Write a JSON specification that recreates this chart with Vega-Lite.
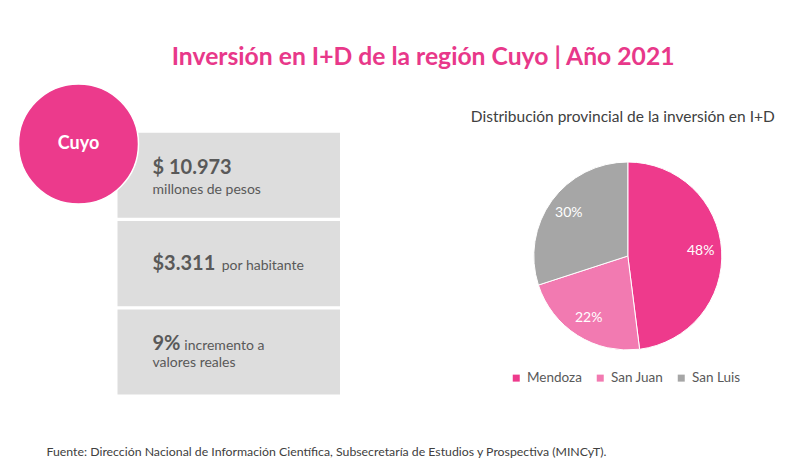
{
  "$schema": "https://vega.github.io/schema/vega-lite/v6.json",
  "background": "white",
  "padding": {"left": 14.5, "top": 44, "right": 5, "bottom": 5},
  "config": {"view": {"stroke": null}, "font": "Lato", "title": {"font": "Lato"}},
  "title": {"text": "Inversión en I+D de la región Cuyo | Año 2021", "font": "Lato", "fontSize": 24.7, "fontWeight": "bold", "color": "#E8388A", "anchor": "middle", "offset": 11.5, "dx": 28},
  "vconcat": [
    {
      "title": {"text": "Fuente: Dirección Nacional de Información Científica, Subsecretaría de Estudios y Prospectiva (MINCyT).", "orient": "bottom", "anchor": "start", "fontSize": 12.3, "fontWeight": "normal", "color": "#404040", "offset": 17.5, "dx": 31},
      "bounds": "flush",
      "spacing": 169,
      "resolve": {"scale": {"color": "independent"}, "legend": {"color": "independent"}},
      "hconcat": [
        {
          "width": 321.5,
          "height": 310.5,
          "layer": [
            {
              "data": {"values": [
                {"indicador": "inversion", "panel": "Cuyo", "valor": "$ 10.973", "detalle": "millones de pesos", "detalle2": ""},
                {"indicador": "habitante", "panel": "Cuyo", "valor": "$3.311", "detalle": "por habitante", "detalle2": ""},
                {"indicador": "incremento", "panel": "Cuyo", "valor": "9%", "detalle": "incremento a", "detalle2": "valores reales"}
              ]},
              "encoding": {
                "x": {"field": "panel", "type": "nominal", "axis": null, "scale": {"type": "band", "paddingInner": 0, "paddingOuter": 0.2225, "align": 1}},
                "y": {"field": "indicador", "type": "nominal", "sort": null, "axis": null, "scale": {"type": "band", "domain": ["inversion", "habitante", "incremento"], "paddingInner": 0.0373, "paddingOuter": 0.276, "align": 1}}
              },
              "layer": [
                {"mark": {"type": "rect", "color": "#DDDDDD"}},
                {"transform": [{"filter": "datum.indicador !== 'habitante'"}],
                 "mark": {"type": "text", "align": "left", "baseline": "alphabetic", "dx": 35, "dy": -1.5, "fontSize": 20, "fontWeight": "bold", "color": "#595959"},
                 "encoding": {"x": {"field": "panel", "type": "nominal", "axis": null, "bandPosition": 0}, "text": {"field": "valor"}}},
                {"transform": [{"filter": "datum.indicador === 'habitante'"}],
                 "mark": {"type": "text", "align": "left", "baseline": "alphabetic", "dx": 35, "dy": 6.7, "fontSize": 20, "fontWeight": "bold", "color": "#595959"},
                 "encoding": {"x": {"field": "panel", "type": "nominal", "axis": null, "bandPosition": 0}, "text": {"field": "valor"}}},
                {"transform": [{"filter": "datum.indicador === 'inversion'"}],
                 "mark": {"type": "text", "align": "left", "baseline": "alphabetic", "dx": 35, "dy": 18.5, "fontSize": 14, "color": "#595959"},
                 "encoding": {"x": {"field": "panel", "type": "nominal", "axis": null, "bandPosition": 0}, "text": {"field": "detalle"}}},
                {"transform": [{"filter": "datum.indicador === 'habitante'"}],
                 "mark": {"type": "text", "align": "left", "baseline": "alphabetic", "dx": 104.2, "dy": 6.7, "fontSize": 14, "color": "#595959"},
                 "encoding": {"x": {"field": "panel", "type": "nominal", "axis": null, "bandPosition": 0}, "text": {"field": "detalle"}}},
                {"transform": [{"filter": "datum.indicador === 'incremento'"}],
                 "mark": {"type": "text", "align": "left", "baseline": "alphabetic", "dx": 66.8, "dy": -1.5, "fontSize": 14, "color": "#595959"},
                 "encoding": {"x": {"field": "panel", "type": "nominal", "axis": null, "bandPosition": 0}, "text": {"field": "detalle"}}},
                {"transform": [{"filter": "datum.indicador === 'incremento'"}],
                 "mark": {"type": "text", "align": "left", "baseline": "alphabetic", "dx": 35, "dy": 15.2, "fontSize": 14, "color": "#595959"},
                 "encoding": {"x": {"field": "panel", "type": "nominal", "axis": null, "bandPosition": 0}, "text": {"field": "detalle2"}}}
              ]
            },
            {
              "data": {"values": [{"region": "Cuyo"}]},
              "encoding": {
                "x": {"field": "region", "type": "nominal", "axis": null, "scale": {"type": "point", "padding": 0, "align": 0.1866}},
                "y": {"field": "region", "type": "nominal", "axis": null, "scale": {"type": "point", "padding": 0, "align": 0.1932}}
              },
              "layer": [
                {"mark": {"type": "point", "shape": "circle", "filled": true, "size": 14400, "color": "#EC3A8C", "opacity": 1, "stroke": "white", "strokeWidth": 1.5}},
                {"mark": {"type": "text", "fontSize": 18, "fontWeight": "bold", "color": "white", "baseline": "middle"}, "encoding": {"text": {"field": "region"}}}
              ]
            }
          ],
          "resolve": {"scale": {"x": "independent", "y": "independent"}}
        },
        {
          "width": 236.6,
          "height": 344,
          "title": {"text": "Distribución provincial de la inversión en I+D", "fontSize": 15.5, "fontWeight": "normal", "color": "#404040", "offset": -41, "dx": -5},
          "data": {"values": [
            {"provincia": "Mendoza", "porcentaje": 0.48},
            {"provincia": "San Juan", "porcentaje": 0.22},
            {"provincia": "San Luis", "porcentaje": 0.30}
          ]},
          "encoding": {
            "theta": {"field": "porcentaje", "type": "quantitative", "stack": true},
            "order": {"field": "provincia", "type": "nominal", "sort": "ascending"}
          },
          "layer": [
            {"mark": {"type": "arc", "outerRadius": 94, "stroke": "white", "strokeWidth": 1},
             "encoding": {"color": {"field": "provincia", "type": "nominal",
               "scale": {"domain": ["Mendoza", "San Juan", "San Luis"], "range": ["#EE3A8C", "#F27AB1", "#A6A6A6"]},
               "legend": {"title": null, "orient": "bottom", "direction": "horizontal", "symbolType": "square", "symbolSize": 49, "symbolStrokeWidth": 0, "labelFontSize": 13.5, "labelColor": "#595959", "labelFont": "Lato", "columnPadding": 11, "labelOffset": 4, "offset": -57.5}}}},
            {"mark": {"type": "text", "radius": 73, "fontSize": 14, "color": "white"},
             "encoding": {"text": {"field": "porcentaje", "type": "quantitative", "format": ".0%"}}}
          ]
        }
      ]
    }
  ]
}
